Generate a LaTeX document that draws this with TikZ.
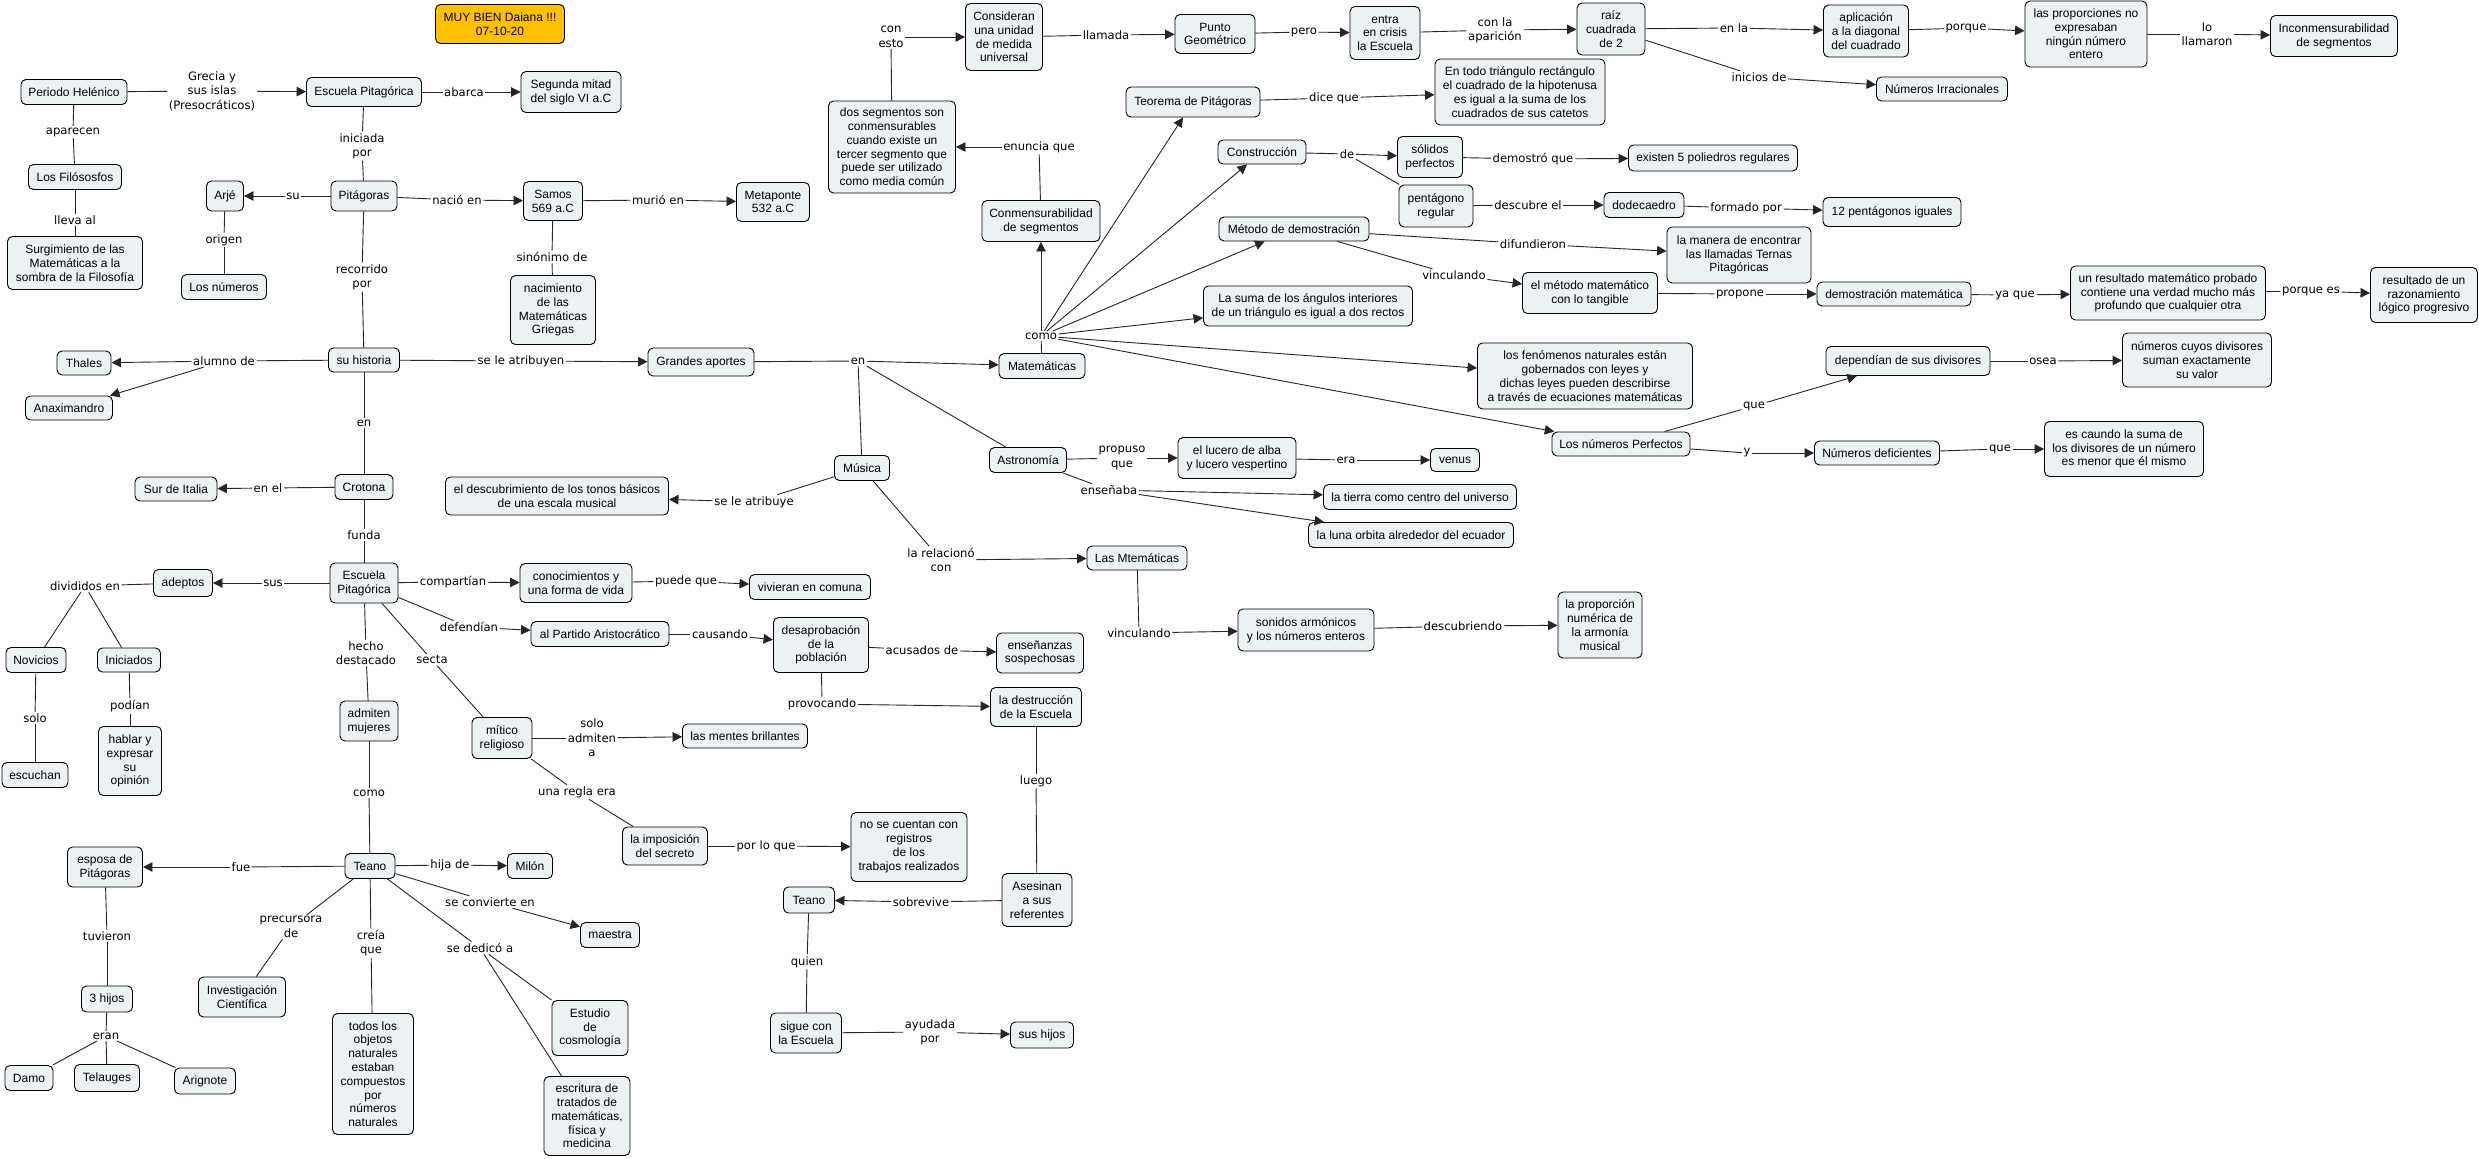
\documentclass[tikz,border=0pt]{standalone}
\usepackage{fontspec}
\setmainfont{Liberation Sans}
\newfontfamily\lblfamily{DejaVu Sans}
\usetikzlibrary{arrows.meta}
\definecolor{ndfill}{HTML}{ECF2F4}
\definecolor{gold}{HTML}{FFC000}
\newcommand\NodeFont{\fontsize{12}{13.8}\selectfont}
\newcommand\LabelFont{\lblfamily\fontsize{11.6}{14.4}\selectfont}
\tikzset{
  nd/.style={draw=black, fill=ndfill, rounded corners=5pt, align=center, font=\NodeFont, inner xsep=2pt, inner ysep=1pt, line width=0.9pt},
  lb/.style={align=center, font=\LabelFont, inner sep=1.5pt},
  ln/.style={draw=black!85, line width=0.9pt},
  ar/.style={ln, -{Triangle[length=9.5pt,width=9.5pt]}},
}
\begin{document}
\begin{tikzpicture}[x=1pt,y=-1pt]
\fill[white] (0,0) rectangle (2479,1159);
\useasboundingbox (0,0) rectangle (2479,1159);

% ---------- concept nodes ----------
\node[nd, fill=gold, minimum width=129, minimum height=39] (muy) at (500,24) {MUY BIEN Daiana !!!\\07-10-20};
\node[nd, minimum width=106, minimum height=25] (periodo) at (74,92) {Periodo Helénico};
\node[nd, minimum width=115, minimum height=29] (escA) at (364,92) {Escuela Pitagórica};
\node[nd, minimum width=100, minimum height=41] (segunda) at (571,92) {Segunda mitad\\del siglo VI a.C};
\node[nd, minimum width=93, minimum height=25] (filosofos) at (75,177) {Los Filósosfos};
\node[nd, minimum width=135, minimum height=53] (surg) at (75,263) {Surgimiento de las\\Matemáticas a la\\sombra de la Filosofía};
\node[nd, minimum width=66, minimum height=30] (pitagoras) at (364,196) {Pitágoras};
\node[nd, minimum width=37, minimum height=30] (arje) at (225,196) {Arjé};
\node[nd, minimum width=85, minimum height=25] (numeros) at (224,287) {Los números};
\node[nd, minimum width=59, minimum height=39] (samos) at (553,201) {Samos\\569 a.C};
\node[nd, minimum width=73, minimum height=39] (metaponte) at (773,202) {Metaponte\\532 a.C};
\node[nd, minimum width=85, minimum height=69] (nacimiento) at (553,310) {nacimiento\\de las\\Matemáticas\\Griegas};
\node[nd, minimum width=71, minimum height=24] (historia) at (364,360) {su historia};
\node[nd, minimum width=54, minimum height=24] (thales) at (84,363) {Thales};
\node[nd, minimum width=87, minimum height=24] (anax) at (69,408) {Anaximandro};
\node[nd, minimum width=106, minimum height=28] (grandes) at (701,362) {Grandes aportes};
\node[nd, minimum width=86, minimum height=25] (mate) at (1042,366) {Matemáticas};
\node[nd, minimum width=118, minimum height=41] (conmens) at (1041,221) {Conmensurabilidad\\de segmentos};
\node[nd, minimum width=127, minimum height=92] (dosseg) at (892,147) {dos segmentos son\\conmensurables\\cuando existe un\\tercer segmento que\\puede ser utilizado\\como media común};
\node[nd, minimum width=77, minimum height=67] (consideran) at (1004,37) {Consideran\\una unidad\\de medida\\universal};
\node[nd, minimum width=80, minimum height=39] (punto) at (1215,34) {Punto\\Geométrico};
\node[nd, minimum width=70, minimum height=53] (entra) at (1385,33) {entra\\en crisis\\la Escuela};
\node[nd, minimum width=68, minimum height=52] (raiz) at (1611,29) {raíz\\cuadrada\\de 2};
\node[nd, minimum width=85, minimum height=52] (aplic) at (1866,31) {aplicación\\a la diagonal\\del cuadrado};
\node[nd, minimum width=122, minimum height=66] (proporc) at (2086,34) {las proporciones no\\expresaban\\ningún número\\entero};
\node[nd, minimum width=127, minimum height=41] (incon) at (2334,36) {Inconmensurabilidad\\de segmentos};
\node[nd, minimum width=131, minimum height=24] (irrac) at (1942,89) {Números Irracionales};
\node[nd, minimum width=134, minimum height=30] (teorema) at (1193,102) {Teorema de Pitágoras};
\node[nd, minimum width=170, minimum height=66] (entodo) at (1520,92) {En todo triángulo rectángulo\\el cuadrado de la hipotenusa\\es igual a la suma de los\\cuadrados de sus catetos};
\node[nd, minimum width=88, minimum height=24] (constr) at (1262,152) {Construcción};
\node[nd, minimum width=65, minimum height=41] (solidos) at (1430,157) {sólidos\\perfectos};
\node[nd, minimum width=169, minimum height=26] (existen) at (1713,158) {existen 5 poliedros regulares};
\node[nd, minimum width=74, minimum height=42] (pentag) at (1436,206) {pentágono\\regular};
\node[nd, minimum width=80, minimum height=25] (dodeca) at (1644,205) {dodecaedro};
\node[nd, minimum width=138, minimum height=29] (doce) at (1892,212) {12 pentágonos iguales};
\node[nd, minimum width=150, minimum height=24] (metodo) at (1294,229) {Método de demostración};
\node[nd, minimum width=144, minimum height=56] (manera) at (1739,255) {la manera de encontrar\\las llamadas Ternas\\Pitagóricas};
\node[nd, minimum width=135, minimum height=41] (metmat) at (1590,293) {el método matemático\\con lo tangible};
\node[nd, minimum width=154, minimum height=24] (demos) at (1894,294) {demostración matemática};
\node[nd, minimum width=195, minimum height=54] (resul) at (2168,293) {un resultado matemático probado\\contiene una verdad mucho más\\profundo que cualquier otra};
\node[nd, minimum width=107, minimum height=55] (razon) at (2424,295) {resultado de un\\razonamiento\\lógico progresivo};
\node[nd, minimum width=209, minimum height=40] (lasuma) at (1308,306) {La suma de los ángulos interiores\\de un triángulo es igual a dos rectos};
\node[nd, minimum width=215, minimum height=66] (fenom) at (1585,376) {los fenómenos naturales están\\gobernados con leyes y\\dichas leyes pueden describirse\\a través de ecuaciones matemáticas};
\node[nd, minimum width=138, minimum height=24] (perfectos) at (1621,444) {Los números Perfectos};
\node[nd, minimum width=164, minimum height=29] (dependian) at (1908,361) {dependían de sus divisores};
\node[nd, minimum width=149, minimum height=54] (cuyos) at (2197,360) {números cuyos divisores\\suman exactamente\\su valor};
\node[nd, minimum width=125, minimum height=24] (defic) at (1877,453) {Números deficientes};
\node[nd, minimum width=159, minimum height=55] (escaundo) at (2124,449) {es caundo la suma de\\los divisores de un número\\es menor que él mismo};
\node[nd, minimum width=55, minimum height=25] (musica) at (862,468) {Música};
\node[nd, minimum width=223, minimum height=38] (descub) at (557,496) {el descubrimiento de los tonos básicos\\de una escala musical};
\node[nd, minimum width=100, minimum height=24] (lasmte) at (1137,558) {Las Mtemáticas};
\node[nd, minimum width=136, minimum height=42] (sonidos) at (1306,630) {sonidos armónicos\\y los números enteros};
\node[nd, minimum width=84, minimum height=66] (proporcion) at (1600,625) {la proporción\\numérica de\\la armonía\\musical};
\node[nd, minimum width=77, minimum height=25] (astro) at (1028,460) {Astronomía};
\node[nd, minimum width=118, minimum height=41] (lucero) at (1237,458) {el lucero de alba\\y lucero vespertino};
\node[nd, minimum width=49, minimum height=23] (venus) at (1455,460) {venus};
\node[nd, minimum width=193, minimum height=25] (tierra) at (1420,497) {la tierra como centro del universo};
\node[nd, minimum width=205, minimum height=25] (luna) at (1411,535) {la luna orbita alrededor del ecuador};
\node[nd, minimum width=58, minimum height=25] (crotona) at (364,487) {Crotona};
\node[nd, minimum width=82, minimum height=24] (sur) at (176,489) {Sur de Italia};
\node[nd, minimum width=68, minimum height=40] (escB) at (364,583) {Escuela\\Pitagórica};
\node[nd, minimum width=59, minimum height=27] (adeptos) at (183,583) {adeptos};
\node[nd, minimum width=60, minimum height=25] (novicios) at (36,660) {Novicios};
\node[nd, minimum width=63, minimum height=24] (iniciados) at (129,660) {Iniciados};
\node[nd, minimum width=66, minimum height=25] (escuchan) at (35,775) {escuchan};
\node[nd, minimum width=63, minimum height=69] (hablar) at (130,761) {hablar y\\expresar\\su\\opinión};
\node[nd, minimum width=112, minimum height=39] (conoc) at (576,583) {conocimientos y\\una forma de vida};
\node[nd, minimum width=121, minimum height=25] (vivieran) at (810,587) {vivieran en comuna};
\node[nd, minimum width=138, minimum height=25] (partido) at (600,634) {al Partido Aristocrático};
\node[nd, minimum width=95, minimum height=55] (desap) at (821,645) {desaprobación\\de la\\población};
\node[nd, minimum width=87, minimum height=40] (ensen) at (1040,653) {enseñanzas\\sospechosas};
\node[nd, minimum width=91, minimum height=39] (destr) at (1036,707) {la destrucción\\de la Escuela};
\node[nd, minimum width=70, minimum height=53] (asesinan) at (1037,900) {Asesinan\\a sus\\referentes};
\node[nd, minimum width=51, minimum height=26] (teanoB) at (809,900) {Teano};
\node[nd, minimum width=71, minimum height=40] (sigue) at (806,1033) {sigue con\\la Escuela};
\node[nd, minimum width=63, minimum height=26] (sushijos) at (1042,1035) {sus hijos};
\node[nd, minimum width=58, minimum height=40] (admiten) at (369,721) {admiten\\mujeres};
\node[nd, minimum width=60, minimum height=41] (mitico) at (502,738) {mítico\\religioso};
\node[nd, minimum width=125, minimum height=24] (mentes) at (745,736) {las mentes brillantes};
\node[nd, minimum width=85, minimum height=38] (imposic) at (665,846) {la imposición\\del secreto};
\node[nd, minimum width=116, minimum height=69] (registros) at (909,847) {no se cuentan con\\registros\\de los\\trabajos realizados};
\node[nd, minimum width=50, minimum height=25] (teanoA) at (370,866) {Teano};
\node[nd, minimum width=75, minimum height=40] (esposa) at (105,867) {esposa de\\Pitágoras};
\node[nd, minimum width=51, minimum height=26] (hijos) at (107,999) {3 hijos};
\node[nd, minimum width=48, minimum height=25] (damo) at (29,1078) {Damo};
\node[nd, minimum width=65, minimum height=27] (telauges) at (107,1078) {Telauges};
\node[nd, minimum width=61, minimum height=26] (arignote) at (205,1081) {Arignote};
\node[nd, minimum width=45, minimum height=25] (milon) at (530,866) {Milón};
\node[nd, minimum width=59, minimum height=25] (maestra) at (610,935) {maestra};
\node[nd, minimum width=87, minimum height=40] (investig) at (242,997) {Investigación\\Científica};
\node[nd, minimum width=81, minimum height=121] (todos) at (373,1074) {todos los\\objetos\\naturales\\estaban\\compuestos\\por\\números\\naturales};
\node[nd, minimum width=76, minimum height=55] (estudio) at (590,1028) {Estudio\\de\\cosmología};
\node[nd, minimum width=86, minimum height=79] (escrit) at (587,1116) {escritura de\\tratados de\\matemáticas,\\física y\\medicina};

% ---------- link labels ----------
\node[lb] (lGrecia) at (212,91) {Grecia y\\sus islas\\(Presocráticos)};
\node[lb] (lAbarca) at (464,92) {abarca};
\node[lb] (lAparecen) at (73,132) {aparecen};
\node[lb] (lLleva) at (75,220) {lleva al};
\node[lb] (lIniciada) at (362,146) {iniciada\\por};
\node[lb] (lSu) at (293,196) {su};
\node[lb] (lOrigen) at (224,240) {origen};
\node[lb] (lNacio) at (457,200) {nació en};
\node[lb] (lMurio) at (658,200) {murió en};
\node[lb] (lSinon) at (552,257) {sinónimo de};
\node[lb] (lRecorr) at (362,277) {recorrido\\por};
\node[lb] (lAlumno) at (224,361) {alumno de};
\node[lb] (lAtrib) at (521,361) {se le atribuyen};
\node[lb] (lEn) at (858,361) {en};
\node[lb] (lComo) at (1041,336) {como};
\node[lb] (lEnuncia) at (1039,147) {enuncia que};
\node[lb] (lConEsto) at (891,37) {con\\esto};
\node[lb] (lLlamada) at (1106,35) {llamada};
\node[lb] (lPero) at (1304,32) {pero};
\node[lb] (lConLa) at (1495,30) {con la\\aparición};
\node[lb] (lEnLa) at (1734,28) {en la};
\node[lb] (lPorque) at (1966,28) {porque};
\node[lb] (lLoLlam) at (2207,34) {lo\\llamaron};
\node[lb] (lInicios) at (1759,77) {inicios de};
\node[lb] (lDice) at (1334,98) {dice que};
\node[lb] (lDe) at (1347,154) {de};
\node[lb] (lDemostro) at (1533,159) {demostró que};
\node[lb] (lDescubre) at (1528,205) {descubre el};
\node[lb] (lFormado) at (1746,208) {formado por};
\node[lb] (lDifund) at (1533,244) {difundieron};
\node[lb] (lVincA) at (1454,275) {vinculando};
\node[lb] (lPropone) at (1740,294) {propone};
\node[lb] (lYaQue) at (2015,295) {ya que};
\node[lb] (lPorqueEs) at (2311,291) {porque es};
\node[lb] (lQueA) at (1754,406) {que};
\node[lb] (lOsea) at (2043,361) {osea};
\node[lb] (lY) at (1747,453) {y};
\node[lb] (lQueB) at (2000,449) {que};
\node[lb] (lEnB) at (364,423) {en};
\node[lb] (lEnEl) at (268,488) {en el};
\node[lb] (lFunda) at (364,535) {funda};
\node[lb] (lSus) at (273,583) {sus};
\node[lb] (lDivid) at (85,586) {divididos en};
\node[lb] (lSolo) at (35,718) {solo};
\node[lb] (lPodian) at (130,706) {podían};
\node[lb] (lCompart) at (453,582) {compartían};
\node[lb] (lPuede) at (686,581) {puede que};
\node[lb] (lDefend) at (469,627) {defendían};
\node[lb] (lCausando) at (720,634) {causando};
\node[lb] (lAcusados) at (922,650) {acusados de};
\node[lb] (lProvoc) at (822,704) {provocando};
\node[lb] (lLuego) at (1036,781) {luego};
\node[lb] (lSobrev) at (921,902) {sobrevive};
\node[lb] (lQuien) at (807,962) {quien};
\node[lb] (lAyudada) at (930,1032) {ayudada\\por};
\node[lb] (lHecho) at (366,653) {hecho\\destacado};
\node[lb] (lSecta) at (432,660) {secta};
\node[lb] (lSoloAdm) at (592,738) {solo\\admiten\\a};
\node[lb] (lRegla) at (577,792) {una regla era};
\node[lb] (lPorLoQue) at (766,846) {por lo que};
\node[lb] (lComoB) at (369,793) {como};
\node[lb] (lFue) at (241,867) {fue};
\node[lb] (lTuvieron) at (107,936) {tuvieron};
\node[lb] (lEran) at (106,1036) {eran};
\node[lb] (lHija) at (450,865) {hija de};
\node[lb] (lConvierte) at (490,902) {se convierte en};
\node[lb] (lPrecurs) at (291,927) {precursora\\de};
\node[lb] (lCreia) at (371,943) {creía\\que};
\node[lb] (lDedico) at (480,948) {se dedicó a};
\node[lb] (lAtribuye) at (754,502) {se le atribuye};
\node[lb] (lRelac) at (941,560) {la relacionó\\con};
\node[lb] (lVincB) at (1139,633) {vinculando};
\node[lb] (lDescubr) at (1463,626) {descubriendo};
\node[lb] (lPropuso) at (1122,458) {propuso\\que};
\node[lb] (lEra) at (1346,460) {era};
\node[lb] (lEnsen) at (1109,490) {enseñaba};

% ---------- connectors ----------
\draw[ln] (periodo) -- (lGrecia); \draw[ar] (lGrecia) -- (escA);
\draw[ln] (escA) -- (lAbarca); \draw[ar] (lAbarca) -- (segunda);
\draw[ln] (periodo) -- (lAparecen); \draw[ln] (lAparecen) -- (filosofos);
\draw[ln] (filosofos) -- (lLleva); \draw[ln] (lLleva) -- (surg);
\draw[ln] (escA) -- (lIniciada); \draw[ln] (lIniciada) -- (pitagoras);
\draw[ln] (pitagoras) -- (lSu); \draw[ar] (lSu) -- (arje);
\draw[ln] (arje) -- (lOrigen); \draw[ln] (lOrigen) -- (numeros);
\draw[ln] (pitagoras) -- (lNacio); \draw[ar] (lNacio) -- (samos);
\draw[ln] (samos) -- (lMurio); \draw[ar] (lMurio) -- (metaponte);
\draw[ln] (samos) -- (lSinon); \draw[ln] (lSinon) -- (nacimiento);
\draw[ln] (pitagoras) -- (lRecorr); \draw[ln] (lRecorr) -- (historia);
\draw[ln] (historia) -- (lAlumno); \draw[ar] (lAlumno) -- (thales); \draw[ar] (lAlumno) -- (anax);
\draw[ln] (historia) -- (lAtrib); \draw[ar] (lAtrib) -- (grandes);
\draw[ln] (grandes) -- (lEn); \draw[ar] (lEn) -- (mate);
\draw[ln] (lEn) -- (musica); \draw[ln] (lEn) -- (astro);
\draw[ln] (mate) -- (lComo);
\draw[ar] (lComo) -- (conmens);
\draw[ar] (lComo) -- (teorema);
\draw[ar] (lComo) -- (constr);
\draw[ar] (lComo) -- (metodo);
\draw[ar] (lComo) -- (lasuma);
\draw[ar] (lComo) -- (fenom);
\draw[ar] (lComo) -- (perfectos);
\draw[ln] (conmens) -- (lEnuncia); \draw[ar] (lEnuncia) -- (dosseg);
\draw[ln] (dosseg) -- (lConEsto); \draw[ar] (lConEsto) -- (consideran);
\draw[ln] (consideran) -- (lLlamada); \draw[ar] (lLlamada) -- (punto);
\draw[ln] (punto) -- (lPero); \draw[ar] (lPero) -- (entra);
\draw[ln] (entra) -- (lConLa); \draw[ar] (lConLa) -- (raiz);
\draw[ln] (raiz) -- (lEnLa); \draw[ar] (lEnLa) -- (aplic);
\draw[ln] (aplic) -- (lPorque); \draw[ar] (lPorque) -- (proporc);
\draw[ln] (proporc) -- (lLoLlam); \draw[ar] (lLoLlam) -- (incon);
\draw[ln] (raiz) -- (lInicios); \draw[ar] (lInicios) -- (irrac);
\draw[ln] (teorema) -- (lDice); \draw[ar] (lDice) -- (entodo);
\draw[ln] (constr) -- (lDe); \draw[ar] (lDe) -- (solidos); \draw[ln] (lDe) -- (pentag);
\draw[ln] (solidos) -- (lDemostro); \draw[ar] (lDemostro) -- (existen);
\draw[ln] (pentag) -- (lDescubre); \draw[ar] (lDescubre) -- (dodeca);
\draw[ln] (dodeca) -- (lFormado); \draw[ar] (lFormado) -- (doce);
\draw[ln] (metodo) -- (lDifund); \draw[ar] (lDifund) -- (manera);
\draw[ln] (metodo) -- (lVincA); \draw[ar] (lVincA) -- (metmat);
\draw[ln] (metmat) -- (lPropone); \draw[ar] (lPropone) -- (demos);
\draw[ln] (demos) -- (lYaQue); \draw[ar] (lYaQue) -- (resul);
\draw[ln] (resul) -- (lPorqueEs); \draw[ar] (lPorqueEs) -- (razon);
\draw[ln] (perfectos) -- (lQueA); \draw[ar] (lQueA) -- (dependian);
\draw[ln] (dependian) -- (lOsea); \draw[ar] (lOsea) -- (cuyos);
\draw[ln] (perfectos) -- (lY); \draw[ar] (lY) -- (defic);
\draw[ln] (defic) -- (lQueB); \draw[ar] (lQueB) -- (escaundo);
\draw[ln] (musica) -- (lAtribuye); \draw[ar] (lAtribuye) -- (descub);
\draw[ln] (musica) -- (lRelac); \draw[ar] (lRelac) -- (lasmte);
\draw[ln] (lasmte) -- (lVincB); \draw[ar] (lVincB) -- (sonidos);
\draw[ln] (sonidos) -- (lDescubr); \draw[ar] (lDescubr) -- (proporcion);
\draw[ln] (astro) -- (lPropuso); \draw[ar] (lPropuso) -- (lucero);
\draw[ln] (lucero) -- (lEra); \draw[ar] (lEra) -- (venus);
\draw[ln] (astro) -- (lEnsen); \draw[ar] (lEnsen) -- (tierra); \draw[ar] (lEnsen) -- (luna);
\draw[ln] (historia) -- (lEnB); \draw[ln] (lEnB) -- (crotona);
\draw[ln] (crotona) -- (lEnEl); \draw[ar] (lEnEl) -- (sur);
\draw[ln] (crotona) -- (lFunda); \draw[ln] (lFunda) -- (escB);
\draw[ln] (escB) -- (lSus); \draw[ar] (lSus) -- (adeptos);
\draw[ln] (adeptos) -- (lDivid); \draw[ln] (lDivid) -- (novicios); \draw[ln] (lDivid) -- (iniciados);
\draw[ln] (novicios) -- (lSolo); \draw[ln] (lSolo) -- (escuchan);
\draw[ln] (iniciados) -- (lPodian); \draw[ln] (lPodian) -- (hablar);
\draw[ln] (escB) -- (lCompart); \draw[ar] (lCompart) -- (conoc);
\draw[ln] (conoc) -- (lPuede); \draw[ar] (lPuede) -- (vivieran);
\draw[ln] (escB) -- (lDefend); \draw[ar] (lDefend) -- (partido);
\draw[ln] (partido) -- (lCausando); \draw[ar] (lCausando) -- (desap);
\draw[ln] (desap) -- (lAcusados); \draw[ar] (lAcusados) -- (ensen);
\draw[ln] (desap) -- (lProvoc); \draw[ar] (lProvoc) -- (destr);
\draw[ln] (destr) -- (lLuego); \draw[ln] (lLuego) -- (asesinan);
\draw[ln] (asesinan) -- (lSobrev); \draw[ar] (lSobrev) -- (teanoB);
\draw[ln] (teanoB) -- (lQuien); \draw[ln] (lQuien) -- (sigue);
\draw[ln] (sigue) -- (lAyudada); \draw[ar] (lAyudada) -- (sushijos);
\draw[ln] (escB) -- (lHecho); \draw[ln] (lHecho) -- (admiten);
\draw[ln] (escB) -- (lSecta); \draw[ln] (lSecta) -- (mitico);
\draw[ln] (mitico) -- (lSoloAdm); \draw[ar] (lSoloAdm) -- (mentes);
\draw[ln] (mitico) -- (lRegla); \draw[ln] (lRegla) -- (imposic);
\draw[ln] (imposic) -- (lPorLoQue); \draw[ar] (lPorLoQue) -- (registros);
\draw[ln] (admiten) -- (lComoB); \draw[ln] (lComoB) -- (teanoA);
\draw[ln] (teanoA) -- (lFue); \draw[ar] (lFue) -- (esposa);
\draw[ln] (esposa) -- (lTuvieron); \draw[ln] (lTuvieron) -- (hijos);
\draw[ln] (hijos) -- (lEran); \draw[ln] (lEran) -- (damo); \draw[ln] (lEran) -- (telauges); \draw[ln] (lEran) -- (arignote);
\draw[ln] (teanoA) -- (lHija); \draw[ar] (lHija) -- (milon);
\draw[ln] (teanoA) -- (lConvierte); \draw[ar] (lConvierte) -- (maestra);
\draw[ln] (teanoA) -- (lPrecurs); \draw[ln] (lPrecurs) -- (investig);
\draw[ln] (teanoA) -- (lCreia); \draw[ln] (lCreia) -- (todos);
\draw[ln] (teanoA) -- (lDedico); \draw[ln] (lDedico) -- (estudio); \draw[ln] (lDedico) -- (escrit);
\end{tikzpicture}
\end{document}
